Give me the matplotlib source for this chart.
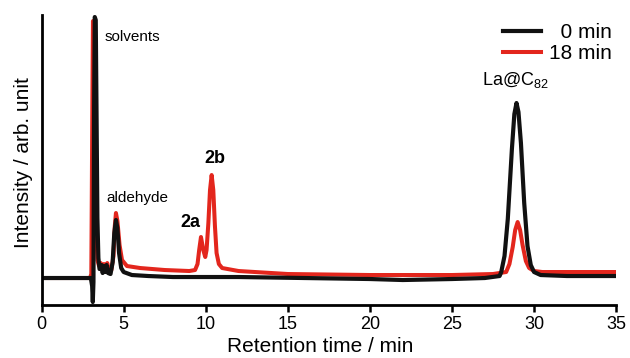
import matplotlib
matplotlib.use("Agg")
import matplotlib.pyplot as plt

plt.rcParams.update(
    {
        "font.family": ["Liberation Sans", "DejaVu Sans"],
        "mathtext.fontset": "custom",
        "mathtext.rm": "Liberation Sans",
        "axes.linewidth": 2.0,
    }
)

# chromatogram traces (time in min, intensity in arb. units)
t_0min = [0.0, 3.0, 3.08, 3.12, 3.16, 3.2, 3.24, 3.3, 3.35, 3.4, 3.46, 3.53, 3.6,
          3.66, 3.72, 3.8, 3.88, 3.96, 4.05, 4.2, 4.33, 4.43, 4.53, 4.62, 4.72,
          4.85, 5.0, 5.5, 6.5, 8.0, 12.0, 16.0, 20.0, 22.0, 25.0, 27.0, 27.9,
          28.0, 28.2, 28.4, 28.65, 28.8, 28.93, 29.05, 29.2, 29.4, 29.6, 29.8,
          30.0, 30.4, 32.0, 35.0]
i_0min = [0, 0, -8, -24, -4, 170, 261, 258, 160, 60, 20, 9, 10,
          13, 5, 12, 6, 13, 5, 4, 16, 45, 58, 50, 25,
          10, 6, 3, 2, 1, 1, 0, -1, -2, -1, 0, 2,
          6, 22, 59, 129, 164, 175, 166, 135, 75, 32, 13,
          6, 3, 2, 2]

t_18min = [0.0, 2.95, 3.03, 3.08, 3.13, 3.18, 3.24, 3.3, 3.4, 3.5, 3.6, 3.7,
           3.8, 3.9, 4.0, 4.1, 4.25, 4.38, 4.46, 4.53, 4.62, 4.75, 4.9, 5.2,
           6.0, 7.5, 9.0, 9.35, 9.5, 9.6, 9.71, 9.85, 9.97, 10.05, 10.16,
           10.26, 10.36, 10.46, 10.56, 10.66, 10.8, 11.0, 12.0, 15.0, 20.0,
           25.0, 27.5, 28.3, 28.5, 28.7, 28.85, 29.0, 29.15, 29.3, 29.5, 29.7,
           30.0, 30.5, 35.0]
i_18min = [0, 0, 4, 140, 257, 250, 170, 60, 18, 12, 15, 8,
           14, 9, 15, 8, 8, 22, 52, 65, 57, 33, 18, 12,
           10, 8, 7, 8, 14, 28, 41, 28, 21, 28, 55,
           88, 103, 88, 52, 25, 14, 10, 7, 4, 3,
           3, 4, 6, 14, 31, 48, 56, 48, 33, 17, 10,
           7, 6, 6]

red = "#e3261d"
black = "#111111"

fig = plt.figure(figsize=(6.3, 3.58), dpi=100)
ax = fig.add_axes([0.066, 0.148, 0.912, 0.81])

ax.plot(t_18min, i_18min, color=red, lw=2.9, label="18 min", solid_joinstyle="round")
ax.plot(t_0min, i_0min, color=black, lw=3.0, label="  0 min", solid_joinstyle="round")

ax.set_xlim(0, 35)
ax.set_ylim(-27, 263)
ax.set_xticks([0, 5, 10, 15, 20, 25, 30, 35])
ax.set_yticks([])
ax.tick_params(axis="x", direction="out", length=5, width=1.8, labelsize=13, pad=3)
for side in ("top", "right"):
    ax.spines[side].set_visible(False)

ax.set_xlabel("Retention time / min", fontsize=15)
ax.xaxis.set_label_coords(0.485, -0.112)
ax.set_ylabel("Intensity / arb. unit", fontsize=15)
ax.yaxis.set_label_coords(-0.015, 0.49)

ax.text(3.86, 241, "solvents", fontsize=11, ha="left", va="center")
ax.text(3.93, 80, "aldehyde", fontsize=11, ha="left", va="center")
ax.text(8.43, 56, "2a", fontsize=13, fontweight="bold", ha="left", va="center")
ax.text(9.89, 120, "2b", fontsize=13, fontweight="bold", ha="left", va="center")
ax.text(26.8, 198, r"La@C$_{\mathrm{82}}$", fontsize=13, ha="left", va="center")

h, l = ax.get_legend_handles_labels()
ax.legend(h[::-1], l[::-1], loc="upper right", bbox_to_anchor=(1.007, 1.0),
          frameon=False, fontsize=15, handlelength=1.8, handletextpad=0.4,
          labelspacing=0.1, borderaxespad=0.0)

fig.savefig("out.png", dpi=100)
